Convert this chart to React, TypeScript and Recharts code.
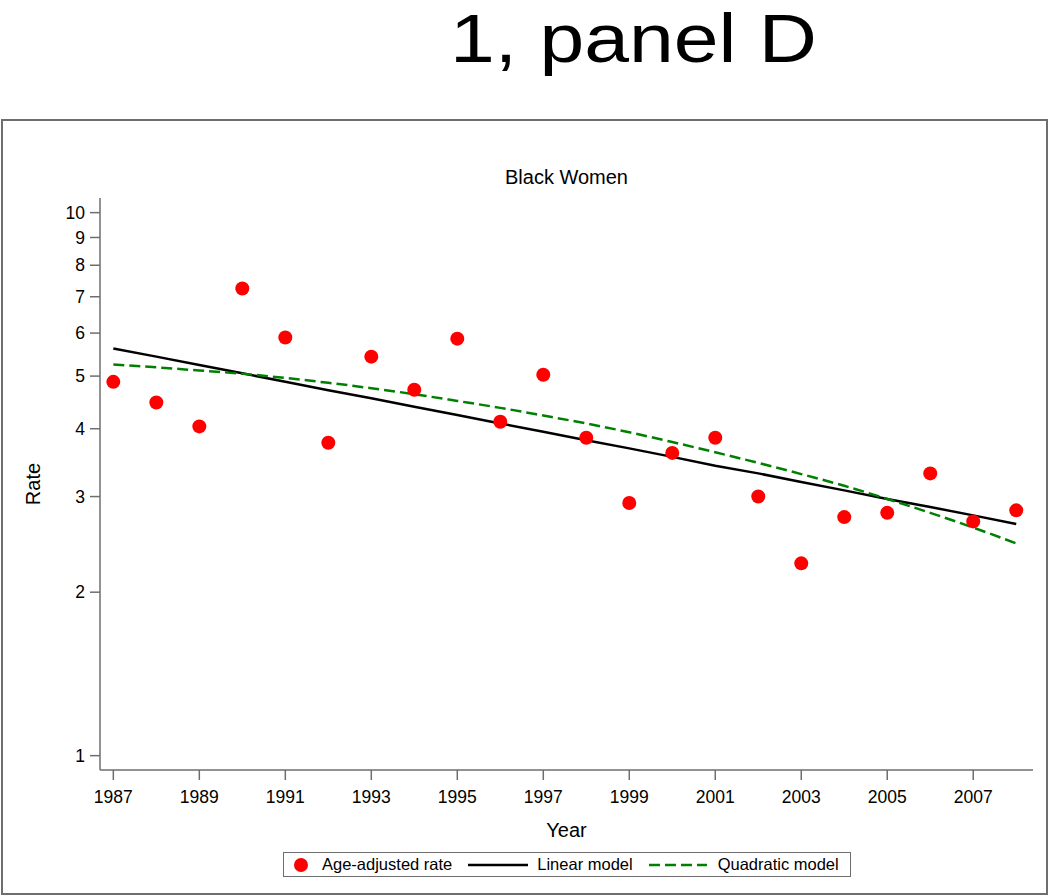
import React from "react";
import {
  ComposedChart,
  Line,
  Scatter,
  XAxis,
  YAxis,
} from "recharts";

const years = [
  1987, 1988, 1989, 1990, 1991, 1992, 1993, 1994, 1995, 1996, 1997, 1998,
  1999, 2000, 2001, 2002, 2003, 2004, 2005, 2006, 2007, 2008,
];
const rates = [
  4.88, 4.47, 4.04, 7.25, 5.89, 3.77, 5.43, 4.72, 5.86, 4.12, 5.03, 3.85,
  2.92, 3.61, 3.85, 3.0, 2.26, 2.75, 2.8, 3.31, 2.7, 2.83,
];
const linearModel = [
  5.62, 5.43, 5.24, 5.06, 4.88, 4.71, 4.55, 4.39, 4.24, 4.09, 3.95, 3.81,
  3.68, 3.55, 3.42, 3.31, 3.19, 3.08, 2.97, 2.87, 2.77, 2.67,
];
const quadraticModel = [
  5.25, 5.19, 5.12, 5.05, 4.96, 4.86, 4.75, 4.63, 4.5, 4.37, 4.23, 4.09,
  3.94, 3.78, 3.62, 3.46, 3.3, 3.14, 2.97, 2.8, 2.63, 2.46,
];
const xTicks = [1987, 1989, 1991, 1993, 1995, 1997, 1999, 2001, 2003, 2005, 2007];
const yTicks = [1, 2, 3, 4, 5, 6, 7, 8, 9, 10];

const data = years.map((year, i) => ({
  year,
  rate: rates[i],
  linear: linearModel[i],
  quad: quadraticModel[i],
}));

const FONT = "'Liberation Sans', Arial, sans-serif";
const FRAME = "#6e6e6e";

const Dot = (props: any) => {
  const { cx, cy } = props;
  if (cx == null || cy == null) return null;
  return <circle cx={cx} cy={cy} r={7} fill="#ff0000" />;
};

const LegendBox = () => (
  <div
    style={{
      position: "absolute",
      left: 283,
      top: 852,
      width: 568,
      border: `1.5px solid ${FRAME}`,
      height: 25,
      boxSizing: "border-box",
      display: "flex",
      alignItems: "center",
      fontFamily: FONT,
      fontSize: 16.5,
      color: "#000",
      paddingLeft: 10,
      whiteSpace: "nowrap",
    }}
  >
    <svg width={14} height={14} style={{ marginRight: 14 }}>
      <circle cx={7} cy={7} r={7} fill="#ff0000" />
    </svg>
    <span>Age-adjusted rate</span>
    <svg width={60} height={10} style={{ marginLeft: 16, marginRight: 9 }}>
      <line x1={0} y1={5} x2={60} y2={5} stroke="#000" strokeWidth={2.5} />
    </svg>
    <span>Linear model</span>
    <svg width={58} height={10} style={{ marginLeft: 16, marginRight: 11 }}>
      <line
        x1={0}
        y1={5}
        x2={58}
        y2={5}
        stroke="#008000"
        strokeWidth={2.5}
        strokeDasharray="11 5"
      />
    </svg>
    <span>Quadratic model</span>
  </div>
);

export default function App() {
  return (
    <div
      style={{
        position: "absolute",
        left: 0,
        top: 0,
        width: 1050,
        height: 896,
        background: "#fff",
        fontFamily: FONT,
      }}
    >
      <svg
        width={1050}
        height={120}
        style={{ position: "absolute", left: 0, top: 0 }}
      >
        <text
          x={450}
          y={62}
          fontSize={68}
          fontFamily={FONT}
          fill="#000"
          textLength={367}
          lengthAdjust="spacingAndGlyphs"
        >
          1, panel D
        </text>
      </svg>
      <div
        style={{
          position: "absolute",
          left: 1,
          top: 119,
          width: 1047,
          height: 776,
          border: `2px solid ${FRAME}`,
          boxSizing: "border-box",
        }}
      />
      <div style={{ position: "absolute", left: 0, top: 0 }}>
        <ComposedChart
          width={1050}
          height={896}
          data={data}
          margin={{ top: 198, right: 17, left: 0, bottom: 0 }}
        >
          <XAxis
            dataKey="year"
            type="number"
            domain={[1986.69, 2008.39]}
            allowDataOverflow
            ticks={xTicks}
            height={126}
            tickSize={10}
            tickMargin={11}
            stroke={FRAME}
            strokeWidth={1.5}
            tick={{ fill: "#000", fontSize: 17.5, fontFamily: FONT }}
          />
          <XAxis
            xAxisId="top"
            orientation="top"
            type="number"
            domain={[1986.69, 2008.39]}
            height={0}
            tick={false}
            tickLine={false}
            stroke={FRAME}
            strokeWidth={1.5}
          />
          <YAxis
            type="number"
            scale="log"
            domain={[0.941, 10.64]}
            allowDataOverflow
            ticks={yTicks}
            width={100}
            tickSize={10}
            tickMargin={5}
            stroke={FRAME}
            strokeWidth={1.5}
            interval={0}
            tick={{ fill: "#000", fontSize: 17.5, fontFamily: FONT }}
          />
          <YAxis
            yAxisId="right"
            orientation="right"
            width={0}
            tick={false}
            tickLine={false}
            stroke={FRAME}
            strokeWidth={1.5}
          />
          <Line
            dataKey="linear"
            type="linear"
            stroke="#000"
            strokeWidth={2.5}
            dot={false}
            isAnimationActive={false}
          />
          <Line
            dataKey="quad"
            type="monotone"
            stroke="#008000"
            strokeWidth={2.5}
            strokeDasharray="11 5"
            dot={false}
            isAnimationActive={false}
          />
          <Scatter
            dataKey="rate"
            fill="#ff0000"
            shape={<Dot />}
            isAnimationActive={false}
          />
        </ComposedChart>
      </div>
      <LegendBox />
      <div
        style={{
          position: "absolute",
          left: 100,
          width: 933,
          top: 166,
          textAlign: "center",
          fontSize: 20,
          color: "#000",
        }}
      >
        Black Women
      </div>
      <div
        style={{
          position: "absolute",
          left: 100,
          width: 933,
          top: 819,
          textAlign: "center",
          fontSize: 20,
          color: "#000",
        }}
      >
        Year
      </div>
      <div
        style={{
          position: "absolute",
          left: 33,
          top: 484,
          transform: "translate(-50%, -50%) rotate(-90deg)",
          fontSize: 20,
          color: "#000",
        }}
      >
        Rate
      </div>
    </div>
  );
}
